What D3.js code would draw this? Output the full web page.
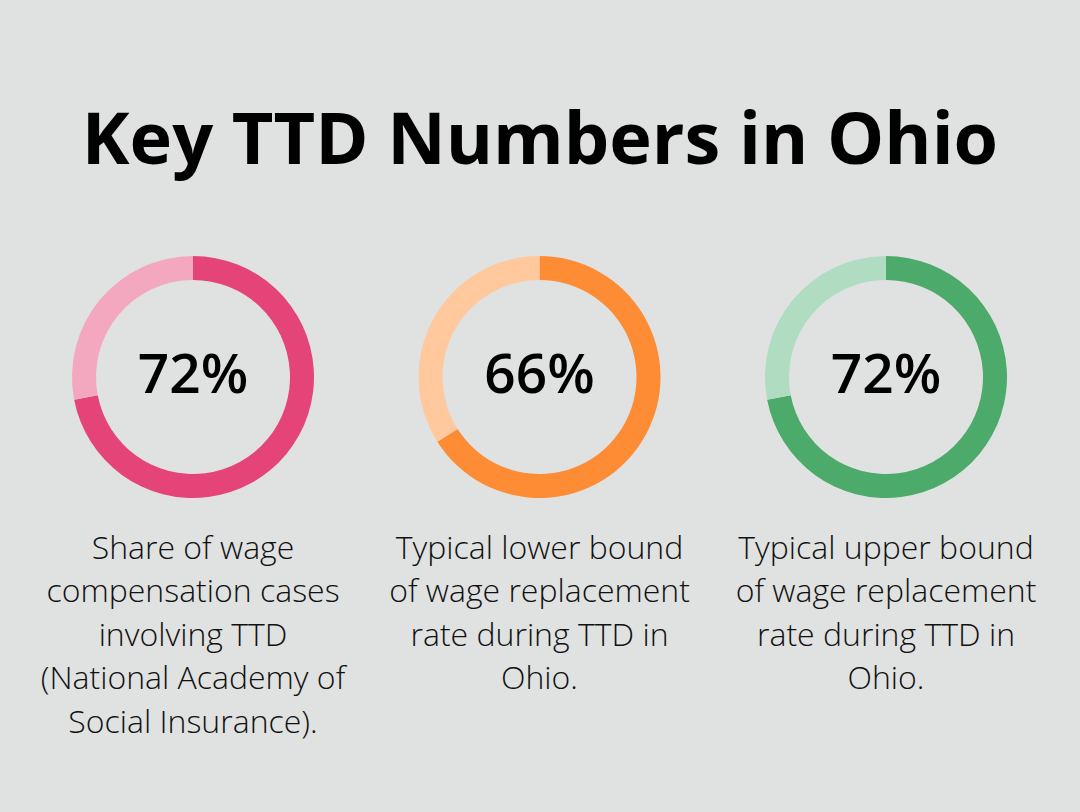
<!DOCTYPE html>
<html>
<head>
<meta charset="utf-8">
<script src="https://cdn.jsdelivr.net/npm/d3@7"></script>
<style>
  html, body { margin: 0; padding: 0; background: #e0e2e1; }
  svg { display: block; font-family: "Open Sans", sans-serif; }
</style>
</head>
<body>
<div id="chart"></div>
<script>
const width = 1080, height = 812;

const title = "Key TTD Numbers in Ohio";
const values = [72, 66, 72];
const labels = ["72%", "66%", "72%"];
const darkColors = ["#e44478", "#fd8c35", "#4caa6a"];
const lightColors = ["#f4a8c0", "#ffc89d", "#b0dcc1"];
const captions = [
  ["Share of wage", "compensation cases", "involving TTD", "(National Academy of", "Social Insurance)."],
  ["Typical lower bound", "of wage replacement", "rate during TTD in", "Ohio."],
  ["Typical upper bound", "of wage replacement", "rate during TTD in", "Ohio."]
];

const svg = d3.select("#chart").append("svg")
  .attr("width", width)
  .attr("height", height);

svg.append("rect").attr("width", width).attr("height", height).attr("fill", "#e0e2e1");

svg.append("text")
  .attr("x", width / 2)
  .attr("y", 164)
  .attr("text-anchor", "middle")
  .attr("font-size", 72)
  .attr("font-weight", 700)
  .attr("fill", "#000")
  .text(title);

const xPos = d3.scalePoint()
  .domain(d3.range(values.length))
  .range([193, 886]);

const outerR = 121, innerR = 97, cy = 377;

const pie = d3.pie().sort(null).value(d => d);
const arc = d3.arc().innerRadius(innerR).outerRadius(outerR);

const groups = svg.selectAll("g.donut")
  .data(values)
  .enter()
  .append("g")
    .attr("class", "donut")
    .attr("transform", (d, i) => "translate(" + xPos(i) + "," + cy + ")");

groups.each(function(v, i) {
  const g = d3.select(this);
  g.selectAll("path")
    .data(pie([v, 100 - v]))
    .enter()
    .append("path")
      .attr("d", arc)
      .attr("fill", (d, j) => j === 0 ? darkColors[i] : lightColors[i]);

  g.append("text")
    .attr("text-anchor", "middle")
    .attr("y", 16)
    .attr("font-size", 55)
    .attr("font-weight", 600)
    .attr("fill", "#000")
    .text(labels[i]);

  const t = g.append("text")
    .attr("text-anchor", "middle")
    .attr("font-size", 32)
    .attr("font-weight", 300)
    .attr("fill", "#111");
  captions[i].forEach((line, k) => {
    t.append("tspan")
      .attr("x", 0)
      .attr("y", 559 - cy + k * 43.4)
      .text(line);
  });
});
</script>
</body>
</html>
